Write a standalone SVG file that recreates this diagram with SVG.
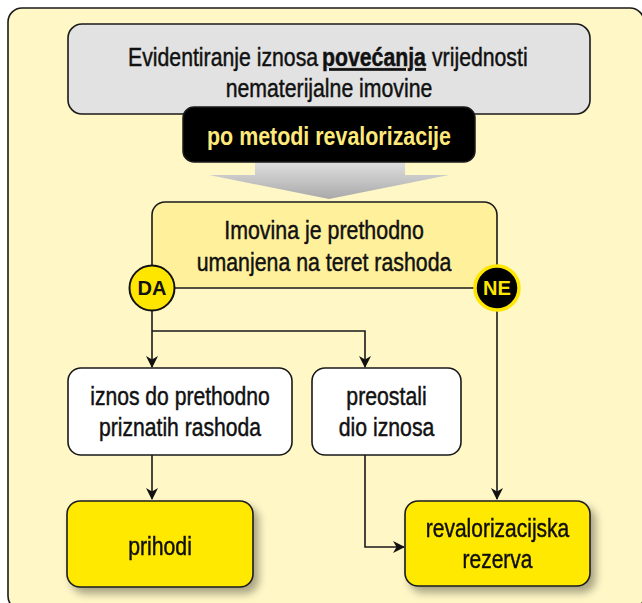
<svg xmlns="http://www.w3.org/2000/svg" width="642" height="603" viewBox="0 0 642 603">
<defs>
<style>
.t{font-family:"Liberation Sans",Arial,sans-serif;font-size:25px;fill:#111;stroke:#111;stroke-width:0.45;text-anchor:middle}
.s{font-family:"Liberation Sans",Arial,sans-serif;font-size:25px;fill:#111;stroke:#111;stroke-width:0.45;text-anchor:start}
.b{font-family:"Liberation Sans",Arial,sans-serif;font-weight:bold;font-size:25px;text-anchor:middle}
.c{font-family:"Liberation Sans",Arial,sans-serif;font-weight:bold;font-size:20px;text-anchor:middle}
.box{stroke:#1a1a1a;stroke-width:1.6}
.con{fill:none;stroke:#1a1a1a;stroke-width:1.6}
</style>
<marker id="ah" viewBox="0 0 12 12" refX="11" refY="6" markerWidth="12" markerHeight="12" markerUnits="userSpaceOnUse" orient="auto">
<path d="M0,0 L12,6 L0,12 L3.5,6 Z" fill="#111"/>
</marker>
<filter id="sh" x="-10%" y="-10%" width="130%" height="140%">
<feGaussianBlur in="SourceAlpha" stdDeviation="4"/>
<feOffset dx="5" dy="6" result="o"/>
<feComponentTransfer><feFuncA type="linear" slope="0.35"/></feComponentTransfer>
<feMerge><feMergeNode/><feMergeNode in="SourceGraphic"/></feMerge>
</filter>
<linearGradient id="ga" x1="0" y1="0" x2="0" y2="1">
<stop offset="0" stop-color="#e2e2e2"/>
<stop offset="1" stop-color="#a9a9a9"/>
</linearGradient>
</defs>
<rect x="0" y="0" width="642" height="603" fill="#ffffff"/>
<rect id="panel" x="8" y="8" width="636" height="602" rx="14" fill="#fff7c6" stroke="#1a1a1a" stroke-width="1.6"/>

<g id="arrow-big">
<path d="M255,160 H405 V175 H449 L329,199 L209,175 H255 Z" fill="url(#ga)"/>
</g>

<g id="title">
<rect class="box" x="68" y="24" width="522" height="90" rx="14" fill="#e2e2e2"/>
<text class="s" transform="translate(128,66) scale(0.85,1)">Evidentiranje iznosa</text>
<text class="s" transform="translate(322,66) scale(0.85,1)" font-weight="bold" stroke-width="0.2" text-decoration="underline">povećanja</text>
<text class="s" transform="translate(432,66) scale(0.85,1)">vrijednosti</text>
<text class="t" transform="translate(329,97) scale(0.85,1)">nematerijalne imovine</text>
</g>

<g id="method">
<rect x="183" y="107" width="292" height="55" rx="11" fill="#000" stroke="#1a1a1a" stroke-width="1.5"/>
<text class="b" transform="translate(329,145) scale(0.857,1)" fill="#ffe97a">po metodi revalorizacije</text>
</g>

<g id="decision">
<rect class="box" x="152" y="202" width="345" height="86" rx="13" fill="#fff09c"/>
<text class="t" transform="translate(324,239) scale(0.855,1)">Imovina je prethodno</text>
<text class="t" transform="translate(324,271) scale(0.853,1)">umanjena na teret rashoda</text>
</g>

<g id="connectors">
<path class="con" d="M152,311 V367" marker-end="url(#ah)"/>
<path class="con" d="M152,331 H365 V367" marker-end="url(#ah)"/>
<path class="con" d="M152,455 V499" marker-end="url(#ah)"/>
<path class="con" d="M365,455 V547 H404" marker-end="url(#ah)"/>
<path class="con" d="M497,311 V499" marker-end="url(#ah)"/>
</g>

<g id="da">
<circle cx="152" cy="288" r="22.5" fill="#ffe600" stroke="#111" stroke-width="2"/>
<text class="c" x="152" y="295" fill="#111">DA</text>
</g>
<g id="ne">
<circle cx="497" cy="288" r="22" fill="#000" stroke="#ffe600" stroke-width="3.5"/>
<text class="c" x="497" y="295" fill="#ffe600">NE</text>
</g>

<g id="box-iznos">
<rect class="box" x="68" y="368" width="224" height="87" rx="13" fill="#ffffff"/>
<text class="t" transform="translate(180,405) scale(0.845,1)">iznos do prethodno</text>
<text class="t" transform="translate(180,436) scale(0.845,1)">priznatih rashoda</text>
</g>

<g id="box-preostali">
<rect class="box" x="312" y="368" width="149" height="87" rx="13" fill="#ffffff"/>
<text class="t" transform="translate(386.5,405) scale(0.85,1)">preostali</text>
<text class="t" transform="translate(386.5,436) scale(0.85,1)">dio iznosa</text>
</g>

<g id="box-prihodi" filter="url(#sh)">
<rect class="box" x="67" y="501" width="186" height="86" rx="13" fill="#ffe900"/>
<text class="t" transform="translate(160,555) scale(0.85,1)">prihodi</text>
</g>

<g id="box-rezerva" filter="url(#sh)">
<rect class="box" x="405" y="501" width="185" height="85" rx="13" fill="#ffe900"/>
<text class="t" transform="translate(497.5,537) scale(0.84,1)">revalorizacijska</text>
<text class="t" transform="translate(497.5,568) scale(0.84,1)">rezerva</text>
</g>
</svg>
